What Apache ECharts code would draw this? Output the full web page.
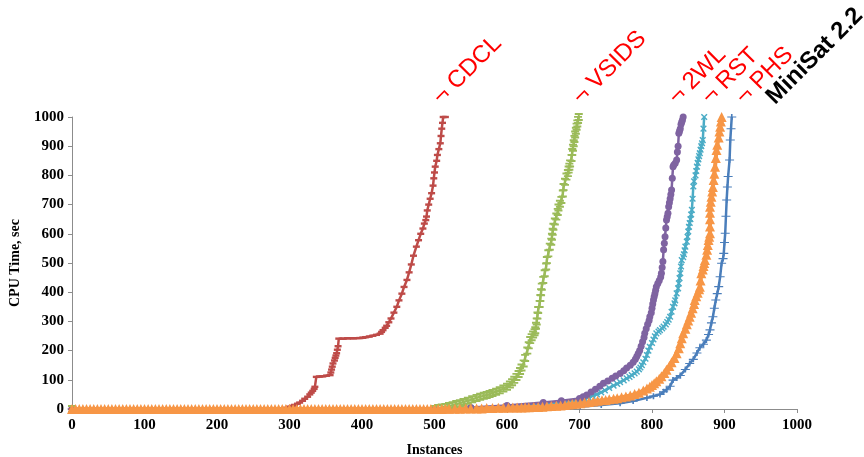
<!DOCTYPE html>
<html>
<head>
<meta charset="utf-8">
<script src="https://cdn.jsdelivr.net/npm/echarts@6/dist/echarts.min.js"></script>
<style>html,body{margin:0;padding:0;background:#fff}#c{width:864px;height:457px}</style>
</head>
<body>
<div id="c"></div>
<script>
// ---- data (instances solved, CPU time in sec) ----
const seriesNames = ['MiniSat 2.2', '¬ PHS', '¬ RST', '¬ 2WL', '¬ VSIDS', '¬ CDCL'];

const minisat = [[0,0],[300,0],[600,0],[650,3],[701,8],[730,14],[756,20],[774,27],[793,38],[802,44],[811,50],[816,59],[820,66],[825,78],[829,99],[834,106],[839,115],[846,135],[852,156],[857,170],[862,192],[866,210],[871,222],[875,236],[878,255],[880,271],[882,295],[884,316],[886,345],[888,373],[890,395],[892,419],[894,453],[896,499],[898,515],[899,533],[900,570],[901,602],[902,660],[903,716],[904,760],[905,796],[907,853],[908,921],[909,960],[910,1000]];

const phs = [[0,0],[5,0],[10,0],[15,0],[20,0],[25,0],[30,0],[35,0],[40,0],[45,0],[50,0],[55,0],[60,0],[65,0],[70,0],[75,0],[80,0],[85,0],[90,0],[95,0],[100,0],[105,0],[110,0],[115,0],[120,0],[125,0],[130,0],[135,0],[140,0],[145,0],[150,0],[155,0],[160,0],[165,0],[170,0],[175,0],[180,0],[185,0],[190,0],[195,0],[200,0],[205,0],[210,0],[215,0],[220,0],[225,0],[230,0],[235,0],[240,0],[245,0],[250,0],[255,0],[260,0],[265,0],[270,0],[275,0],[280,0],[285,0],[290,0],[295,0],[300,0],[305,0],[310,0],[315,0],[320,0],[325,0],[330,0],[335,0],[340,0],[345,0],[350,0],[355,0],[360,0],[365,0],[370,0],[375,0],[380,0],[385,0],[390,0],[395,0],[400,0],[405,0],[410,0],[415,0],[420,0],[425,0],[430,0],[435,0],[440,0],[445,0],[450,0],[455,0],[460,0],[465,0],[470,0],[475,0],[480,0],[485,0],[490,0],[495,0],[500,0],[505,0],[510,0],[515,1],[520,1],[528,1],[535,1],[543,2],[550,2],[558,2],[565,2],[572,3],[580,3],[588,4],[595,4],[602,5],[608,5],[614,5],[620,5],[625,6],[630,6],[637,7],[643,7],[649,8],[655,9],[661,10],[668,11],[674,12],[680,14],[685,15],[690,17],[695,18],[701,20],[707,22],[713,24],[719,26],[725,28],[731,30],[736,31],[741,33],[747,35],[752,37],[758,40],[764,43],[770,46],[776,51],[782,56],[788,63],[793,70],[797,76],[800,82],[803,88],[806,95],[810,104],[813,112],[817,123],[820,134],[824,147],[827,160],[831,175],[834,191],[837,208],[839,225],[841,242],[843,259],[846,275],[848,290],[850,303],[852,316],[854,330],[856,345],[858,360],[859,373],[861,386],[863,398],[865,410],[866,419],[867,440],[868,465],[870,478],[871,490],[872,500],[873,510],[875,528],[876,545],[877,562],[878,579],[879,590],[880,602],[880,625],[880,650],[880,672],[880,693],[881,710],[882,727],[883,745],[884,760],[885,784],[886,806],[887,830],[888,860],[889,887],[890,905],[892,930],[893,950],[894,967],[895,985],[896,1000]];

const rst = [[0,0],[500,0],[550,3],[600,8],[650,15],[700,30],[706,35],[712,40],[718,45],[724,50],[730,57],[735,64],[741,72],[747,80],[752,86],[756,92],[761,98],[765,105],[769,110],[772,116],[776,122],[779,128],[782,136],[784,142],[786,150],[788,160],[791,172],[793,185],[795,200],[797,213],[800,226],[802,238],[804,249],[806,259],[809,265],[811,270],[814,276],[816,282],[819,290],[821,298],[823,306],[825,316],[827,333],[829,350],[831,362],[832,372],[834,396],[836,413],[837,430],[838,448],[839,465],[840,488],[841,510],[843,520],[844,530],[845,543],[846,556],[848,573],[849,590],[850,608],[851,624],[852,637],[853,650],[854,666],[855,682],[856,720],[857,762],[858,780],[860,800],[861,815],[862,830],[863,843],[864,855],[865,866],[866,876],[867,888],[868,900],[869,910],[870,921],[871,960],[872,1000]];

const twl = [[0,0],[500,2],[550,5],[600,12],[650,22],[675,28],[700,36],[705,42],[710,48],[716,58],[722,68],[728,78],[733,88],[739,96],[745,105],[750,113],[756,122],[761,131],[765,140],[770,150],[774,160],[777,170],[779,180],[781,190],[783,200],[785,215],[787,230],[789,245],[790,259],[792,275],[794,290],[796,303],[797,316],[799,330],[800,345],[801,360],[802,373],[803,384],[804,395],[805,407],[806,419],[808,430],[810,440],[812,452],[813,465],[814,485],[815,505],[816,545],[817,568],[818,590],[819,620],[820,647],[821,658],[822,670],[823,693],[824,706],[825,720],[826,735],[827,750],[828,790],[829,830],[830,836],[832,842],[834,853],[835,880],[836,900],[837,944],[838,952],[839,960],[840,975],[841,983],[842,990],[843,1000]];

const vsids = [[0,0],[500,0],[505,3],[510,5],[515,7],[520,10],[525,13],[530,17],[535,20],[540,24],[546,28],[552,33],[558,38],[563,42],[568,45],[572,48],[576,51],[580,55],[585,59],[590,64],[595,70],[600,76],[604,84],[607,92],[610,100],[613,110],[616,120],[618,130],[620,142],[623,156],[625,175],[628,200],[630,218],[632,236],[634,246],[636,255],[638,263],[639,270],[640,285],[641,300],[642,320],[643,339],[645,360],[646,380],[647,400],[648,419],[650,442],[652,465],[654,488],[655,510],[657,533],[659,556],[661,573],[662,590],[663,607],[664,624],[666,642],[668,659],[670,675],[671,690],[673,703],[675,716],[677,738],[678,760],[680,778],[682,796],[684,808],[685,820],[686,830],[687,841],[689,860],[690,880],[691,895],[692,910],[693,925],[694,940],[695,953],[696,967],[697,978],[698,990],[699,1000]];

const cdcl = [[0,0],[290,0],[295,4],[300,8],[304,11],[307,14],[311,18],[314,22],[318,28],[321,35],[325,42],[328,50],[330,56],[332,62],[334,69],[335,76],[337,110],[341,111],[346,112],[351,114],[356,116],[357,125],[358,135],[359,145],[360,156],[362,166],[363,175],[364,183],[365,191],[366,203],[367,215],[368,241],[374,241],[380,242],[388,242],[397,243],[401,244],[405,246],[410,248],[415,251],[420,254],[425,258],[427,264],[429,270],[432,278],[434,285],[437,297],[440,310],[444,330],[448,350],[451,372],[455,395],[458,418],[462,442],[465,468],[468,495],[471,525],[475,556],[478,578],[481,600],[484,618],[486,635],[488,647],[489,659],[490,680],[492,700],[494,720],[496,739],[498,765],[499,790],[500,810],[501,830],[503,850],[504,870],[506,890],[508,910],[509,935],[510,960],[511,980],[512,1000],[515,1000]];

const xTicks = [0,100,200,300,400,500,600,700,800,900,1000];
const yTicks = [0,100,200,300,400,500,600,700,800,900,1000];

// label anchor positions along x (instances) for the rotated series labels
const labelAnchorX = [975, 933, 886, 840, 708, 515];

// ---- chart ----
const colors = ['#4A7EBB', '#F79646', '#4BACC6', '#7F63A1', '#9BBB59', '#BE4B48'];
const plusPath = 'path://M0,4.1L10,4.1L10,5.9L0,5.9Z M4.1,0L5.9,0L5.9,10L4.1,10Z';
const ibeamPath = 'path://M0,0L10,0L10,2.4L6.2,2.4L6.2,7.6L10,7.6L10,10L0,10L0,7.6L3.8,7.6L3.8,2.4L0,2.4Z';

const datasets = [minisat, phs, rst, twl, vsids, cdcl];
const symbols = [plusPath, 'triangle', plusPath, 'circle', ibeamPath, 'rect'];
const symbolSizes = [[9,6], 10, 8, 7, [8,8], [7,2.4]];
const symbolRot = [0, 0, 45, 0, 0, 0];
const lineWidths = [2.5, 4, 2.5, 2.5, 2.5, 2.5];
// draw order: orange last on top
const order = [0, 2, 3, 4, 5, 1];

const series = order.map(i => ({
  name: seriesNames[i],
  type: 'line',
  data: datasets[i],
  symbol: symbols[i],
  symbolSize: symbolSizes[i],
  symbolRotate: symbolRot[i],
  showSymbol: true,
  showAllSymbol: true,
  animation: false,
  lineStyle: { color: colors[i], width: lineWidths[i] },
  itemStyle: { color: colors[i], borderWidth: 0 },
  emphasis: { disabled: true },
  z: 2
}));

const chart = echarts.init(document.getElementById('c'), null, { renderer: 'canvas' });
const option = {
  animation: false,
  backgroundColor: '#ffffff',
  grid: { left: 72, right: 67, top: 117, bottom: 48, containLabel: false, outerBoundsMode: 'none' },
  xAxis: {
    type: 'value', min: 0, max: 1000, interval: 100,
    name: 'Instances', nameLocation: 'middle', nameGap: 34,
    nameTextStyle: { fontFamily: 'Liberation Serif', fontWeight: 'bold', fontSize: 14, color: '#000' },
    axisLine: { show: true, lineStyle: { color: '#8c8c8c', width: 1 } },
    axisTick: { show: true, length: 4, lineStyle: { color: '#8c8c8c' } },
    axisLabel: { fontFamily: 'Liberation Serif', fontWeight: 'bold', fontSize: 15, color: '#000', margin: 9,
      formatter: v => xTicks.includes(v) ? String(v) : '' },
    splitLine: { show: false }
  },
  yAxis: {
    type: 'value', min: 0, max: 1000, interval: 100,
    name: 'CPU Time, sec', nameLocation: 'middle', nameGap: 50, nameRotate: 90,
    nameTextStyle: { fontFamily: 'Liberation Serif', fontWeight: 'bold', fontSize: 14, color: '#000' },
    axisLine: { show: true, lineStyle: { color: '#8c8c8c', width: 1 } },
    axisTick: { show: true, length: 4, lineStyle: { color: '#8c8c8c' } },
    axisLabel: { fontFamily: 'Liberation Serif', fontWeight: 'bold', fontSize: 15, color: '#000', margin: 8,
      formatter: v => yTicks.includes(v) ? String(v) : '' },
    splitLine: { show: false }
  },
  series: series
};
chart.setOption(option);

// rotated series labels above the plot
const graphics = seriesNames.map((name, i) => {
  const p = chart.convertToPixel({ gridIndex: 0 }, [labelAnchorX[i], 1000]);
  const isBase = i === 0;
  return {
    type: 'text',
    x: p[0],
    y: p[1] - 8,
    rotation: Math.PI / 4,
    style: {
      text: name,
      fill: isBase ? '#000000' : '#FF0000',
      font: (isBase ? 'bold ' : '') + '24px "Liberation Sans", Arial, sans-serif',
      textAlign: 'left',
      textVerticalAlign: 'bottom'
    },
    z: 10
  };
});
chart.setOption({ graphic: graphics });
</script>
</body>
</html>
